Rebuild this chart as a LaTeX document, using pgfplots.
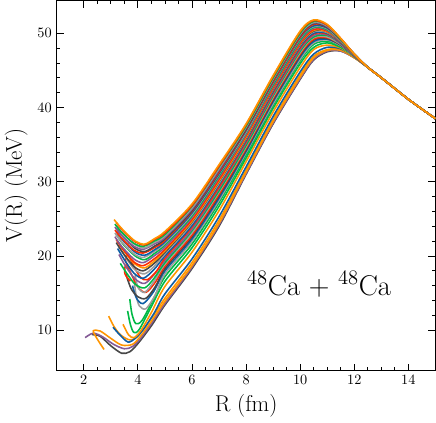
\documentclass[border=0pt]{standalone}
\usepackage{pgfplots}
\pgfplotsset{compat=1.18}
\definecolor{sBlue}{HTML}{0C5DA5}
\definecolor{sGreen}{HTML}{00B945}
\definecolor{sOrange}{HTML}{FF9500}
\definecolor{sRed}{HTML}{FF2C00}
\definecolor{sPurple}{HTML}{845B97}
\definecolor{sDGray}{HTML}{474747}
\definecolor{sGray}{HTML}{9E9E9E}
\begin{document}
\begin{tikzpicture}
\begin{axis}[
  scale only axis, width=265pt, height=259pt,
  xmin=1, xmax=15, ymin=4.55, ymax=54.4,
  xtick={2,4,...,14}, ytick={10,20,...,50},
  minor x tick num=3, minor y tick num=4,
  major tick length=5pt, minor tick length=2.5pt,
  tick style={line width=0.6pt, black},
  axis line style={line width=0.8pt},
  xlabel={R (fm)}, ylabel={V(R) (MeV)},
  label style={font=\fontsize{16}{19}\selectfont},
  tick label style={font=\normalsize},
  every axis plot/.append style={smooth, line width=1.1pt, no markers},
]
% lowest members of the ensemble
\addplot[sDGray] coordinates {(2.3,9.4)(2.6,9.2)(3.0,7.9)(3.4,6.9)(3.7,7.1)(4.0,8.2)(4.5,10.6)(5,13.4)(6,18.3)(7,24.0)(8,31.0)(9,37.8)(10,43.8)(10.5,46.4)(11,47.5)(11.5,47.6)(12,46.7)(12.5,45.4)(13,44.0)(14,41.1)(15,38.5)};
\addplot[sPurple] coordinates {(2.05,9.0)(2.35,9.6)(2.7,9.1)(3.1,8.1)(3.5,7.5)(3.8,7.8)(4.1,8.9)(4.5,10.9)(5,13.6)(6,18.5)(7,24.2)(8,31.1)(9,37.9)(10,43.9)(10.5,46.5)(11,47.6)(11.5,47.6)(12,46.7)(12.5,45.4)(13,44.0)(14,41.1)(15,38.5)};
\addplot[sOrange] coordinates {(2.75,7.4)(2.5,8.8)(2.35,9.9)(2.6,9.9)(3.0,8.9)(3.4,8.0)(3.8,8.1)(4.1,9.2)(4.5,11.2)(5,13.9)(6,18.7)(7,24.4)(8,31.3)(9,38.1)(10,44.1)(10.5,46.7)(11,47.7)(11.5,47.7)(12,46.7)(12.5,45.4)(13,44.0)(14,41.1)(15,38.5)};
\addplot[sOrange] coordinates {(2.92,11.9)(3.1,10.6)(3.35,9.4)(3.7,8.7)(4.0,9.2)(4.5,11.6)(5,14.3)(6,19.1)(7,24.8)(8,31.6)(9,38.4)(10,44.4)(10.5,46.9)(11,47.8)(11.5,47.8)(12,46.8)(12.5,45.4)(13,44.0)(14,41.1)(15,38.5)};
\addplot[sBlue] coordinates {(3.08,10.4)(3.35,9.3)(3.64,8.4)(3.9,8.9)(4.2,10.1)(4.6,12.3)(5,14.9)(6,19.6)(7,25.3)(8,32.0)(9,38.8)(10,44.8)(10.5,47.2)(11,48.1)(11.5,47.9)(12,46.8)(12.5,45.4)(13,44.0)(14,41.1)(15,38.5)};
\addplot[sOrange] coordinates {(3.45,10.8)(3.65,9.4)(3.85,9.0)(4.1,9.9)(4.5,12.4)(5,15.9)(6,20.5)(7,26.1)(8,32.7)(9,39.4)(10,45.4)(10.5,47.8)(11,48.4)(11.5,48.0)(12,46.8)(12.5,45.4)(13,44.0)(14,41.1)(15,38.5)};
\addplot[sGreen] coordinates {(3.62,12.6)(3.72,10.8)(3.85,9.7)(4.05,10.1)(4.5,13.2)(5,16.6)(6,21.1)(7,26.7)(8,33.2)(9,39.9)(10,45.9)(10.5,48.1)(11,48.7)(11.5,48.1)(12,46.9)(12.5,45.4)(13,44.0)(14,41.1)(15,38.5)};
\addplot[sGreen] coordinates {(3.7,14.2)(3.78,12.2)(3.92,10.9)(4.15,11.3)(4.55,14.0)(5,17.2)(6,21.6)(7,27.2)(8,33.6)(9,40.3)(10,46.3)(10.5,48.5)(11,48.9)(11.5,48.3)(12,46.9)(12.5,45.4)(13,44.0)(14,41.1)(15,38.5)};
% middle of the bundle
\addplot[sGray] coordinates {(3.85,17.3)(3.92,15.0)(4.05,13.3)(4.3,12.9)(4.65,14.8)(5,17.6)(6,22.0)(7,27.5)(8,33.9)(9,40.5)(10,46.5)(10.5,48.7)(11,49.1)(11.5,48.3)(12,46.9)(12.5,45.4)(13,44.0)(14,41.1)(15,38.5)};
\addplot[sBlue] coordinates {(3.8,16.0)(3.95,14.3)(4.2,13.6)(4.6,15.3)(5,18.0)(6,22.3)(7,27.8)(8,34.1)(9,40.8)(10,46.8)(10.5,48.9)(11,49.2)(11.5,48.4)(12,46.9)(12.5,45.4)(13,44.0)(14,41.1)(15,38.5)};
\addplot[sDGray] coordinates {(3.55,17.6)(3.75,15.6)(4.0,14.5)(4.3,14.3)(4.65,15.9)(5,18.3)(6,22.6)(7,28.1)(8,34.3)(9,41.0)(10,47.0)(10.5,49.1)(11,49.3)(11.5,48.4)(12,47.0)(12.5,45.4)(13,44.0)(14,41.1)(15,38.5)};
\addplot[sRed] coordinates {(3.72,16.6)(3.52,17.6)(3.55,18.7)(3.75,17.6)(4.0,15.8)(4.3,15.1)(4.65,16.5)(5,18.6)(6,22.8)(7,28.3)(8,34.5)(9,41.2)(10,47.2)(10.5,49.2)(11,49.4)(11.5,48.5)(12,47.0)(12.5,45.4)(13,44.0)(14,41.1)(15,38.5)};
\addplot[sGray] coordinates {(3.9,17.5)(4.0,15.8)(4.25,15.1)(4.6,16.6)(5,18.9)(6,23.1)(7,28.6)(8,34.7)(9,41.4)(10,47.4)(10.5,49.4)(11,49.5)(11.5,48.5)(12,47.0)(12.5,45.4)(13,44.0)(14,41.1)(15,38.5)};
\addplot[sGreen] coordinates {(3.35,19.0)(3.6,17.6)(3.9,16.2)(4.25,15.7)(4.6,17.0)(5,19.1)(6,23.4)(7,28.8)(8,34.9)(9,41.6)(10,47.6)(10.5,49.5)(11,49.7)(11.5,48.6)(12,47.0)(12.5,45.4)(13,44.0)(14,41.1)(15,38.5)};
\addplot[sPurple] coordinates {(3.3,20.2)(3.55,18.6)(3.9,16.9)(4.25,16.3)(4.6,17.5)(5,19.4)(6,23.6)(7,29.1)(8,35.2)(9,41.8)(10,47.8)(10.5,49.7)(11,49.8)(11.5,48.6)(12,47.0)(12.5,45.4)(13,44.0)(14,41.1)(15,38.5)};
\addplot[sRed] coordinates {(3.78,18.0)(3.55,19.2)(3.62,20.2)(3.85,18.6)(4.1,17.1)(4.35,16.8)(4.7,18.0)(5,19.7)(6,23.9)(7,29.3)(8,35.4)(9,42.0)(10,48.0)(10.5,49.9)(11,49.9)(11.5,48.7)(12,47.0)(12.5,45.4)(13,44.0)(14,41.1)(15,38.5)};
\addplot[sBlue] coordinates {(3.25,21.0)(3.5,19.5)(3.85,17.7)(4.2,17.0)(4.6,18.2)(5,20.0)(6,24.1)(7,29.6)(8,35.6)(9,42.2)(10,48.2)(10.5,50.0)(11,50.0)(11.5,48.7)(12,47.0)(12.5,45.4)(13,44.0)(14,41.1)(15,38.5)};
\addplot[sGray] coordinates {(3.3,21.3)(3.55,19.8)(3.9,18.1)(4.25,17.6)(4.6,18.6)(5,20.3)(6,24.4)(7,29.8)(8,35.8)(9,42.4)(10,48.4)(10.5,50.2)(11,50.1)(11.5,48.8)(12,47.1)(12.5,45.4)(13,44.0)(14,41.1)(15,38.5)};
\addplot[sDGray] coordinates {(3.2,21.8)(3.45,20.4)(3.85,18.6)(4.2,18.0)(4.6,19.0)(5,20.5)(6,24.6)(7,30.0)(8,35.9)(9,42.5)(10,48.5)(10.5,50.3)(11,50.2)(11.5,48.8)(12,47.1)(12.5,45.4)(13,44.0)(14,41.1)(15,38.5)};
\addplot[sOrange] coordinates {(3.25,22.0)(3.5,20.6)(3.9,18.9)(4.25,18.4)(4.6,19.3)(5,20.7)(6,24.7)(7,30.1)(8,36.0)(9,42.6)(10,48.6)(10.5,50.4)(11,50.2)(11.5,48.9)(12,47.1)(12.5,45.4)(13,44.0)(14,41.1)(15,38.5)};
% upper members
\addplot[sRed] coordinates {(3.2,22.2)(3.45,20.9)(3.85,19.2)(4.2,18.7)(4.6,19.6)(5,20.9)(6,24.9)(7,30.3)(8,36.2)(9,42.7)(10,48.7)(10.5,50.5)(11,50.3)(11.5,48.9)(12,47.1)(12.5,45.4)(13,44.0)(14,41.1)(15,38.5)};
\addplot[sPurple] coordinates {(3.15,22.6)(3.4,21.3)(3.85,19.6)(4.2,19.1)(4.6,20.0)(5,21.2)(6,25.2)(7,30.6)(8,36.4)(9,42.9)(10,48.9)(10.5,50.7)(11,50.4)(11.5,48.9)(12,47.1)(12.5,45.4)(13,44.0)(14,41.1)(15,38.5)};
\addplot[sGreen] coordinates {(3.2,22.9)(3.45,21.6)(3.9,20.0)(4.25,19.5)(4.6,20.3)(5,21.5)(6,25.4)(7,30.8)(8,36.6)(9,43.1)(10,49.1)(10.5,50.8)(11,50.5)(11.5,49.0)(12,47.1)(12.5,45.4)(13,44.0)(14,41.1)(15,38.5)};
\addplot[sGray] coordinates {(3.15,23.1)(3.4,21.9)(3.85,20.3)(4.2,19.8)(4.6,20.6)(5,21.7)(6,25.6)(7,31.0)(8,36.7)(9,43.3)(10,49.3)(10.5,50.9)(11,50.6)(11.5,49.0)(12,47.1)(12.5,45.4)(13,44.0)(14,41.1)(15,38.5)};
\addplot[sBlue] coordinates {(3.2,23.3)(3.45,22.1)(3.9,20.5)(4.25,20.1)(4.6,20.8)(5,21.9)(6,25.8)(7,31.1)(8,36.9)(9,43.4)(10,49.4)(10.5,51.0)(11,50.7)(11.5,49.1)(12,47.1)(12.5,45.4)(13,44.0)(14,41.1)(15,38.5)};
\addplot[sRed] coordinates {(3.15,23.5)(3.4,22.4)(3.85,20.8)(4.2,20.4)(4.6,21.1)(5,22.1)(6,26.0)(7,31.3)(8,37.0)(9,43.5)(10,49.5)(10.5,51.2)(11,50.8)(11.5,49.1)(12,47.1)(12.5,45.4)(13,44.0)(14,41.1)(15,38.5)};
\addplot[sDGray] coordinates {(3.2,23.7)(3.45,22.6)(3.9,21.0)(4.25,20.6)(4.6,21.3)(5,22.3)(6,26.1)(7,31.5)(8,37.1)(9,43.7)(10,49.7)(10.5,51.3)(11,50.8)(11.5,49.1)(12,47.2)(12.5,45.4)(13,44.0)(14,41.1)(15,38.5)};
\addplot[sPurple] coordinates {(3.15,23.9)(3.4,22.8)(3.85,21.3)(4.2,20.9)(4.6,21.6)(5,22.5)(6,26.3)(7,31.6)(8,37.3)(9,43.8)(10,49.8)(10.5,51.4)(11,50.9)(11.5,49.2)(12,47.2)(12.5,45.4)(13,44.0)(14,41.1)(15,38.5)};
\addplot[sGray] coordinates {(3.2,24.1)(3.45,23.0)(3.9,21.5)(4.25,21.1)(4.6,21.8)(5,22.7)(6,26.5)(7,31.8)(8,37.4)(9,43.9)(10,49.9)(10.5,51.5)(11,51.0)(11.5,49.2)(12,47.2)(12.5,45.4)(13,44.0)(14,41.1)(15,38.5)};
\addplot[sGreen] coordinates {(3.15,24.3)(3.4,23.2)(3.85,21.7)(4.2,21.3)(4.6,22.0)(5,22.9)(6,26.7)(7,32.0)(8,37.5)(9,44.0)(10,50.0)(10.5,51.6)(11,51.1)(11.5,49.2)(12,47.2)(12.5,45.4)(13,44.0)(14,41.1)(15,38.5)};
\addplot[sRed] coordinates {(3.2,24.5)(3.45,23.4)(3.9,21.9)(4.25,21.5)(4.6,22.2)(5,23.1)(6,26.8)(7,32.1)(8,37.7)(9,44.2)(10,50.2)(10.5,51.7)(11,51.1)(11.5,49.3)(12,47.2)(12.5,45.4)(13,44.0)(14,41.1)(15,38.5)};
\addplot[sOrange] coordinates {(3.12,24.9)(3.45,23.5)(3.9,22.0)(4.25,21.6)(4.6,22.3)(5,23.3)(6,27.0)(7,32.3)(8,37.8)(9,44.3)(10,50.3)(10.5,51.8)(11,51.2)(11.5,49.3)(12,47.2)(12.5,45.4)(13,44.0)(14,41.1)(15,38.5)};
\node[font=\fontsize{20}{24}\selectfont] at (axis cs:10.7,16.2) {$^{48}$Ca + $^{48}$Ca};
\end{axis}
\end{tikzpicture}
\end{document}
